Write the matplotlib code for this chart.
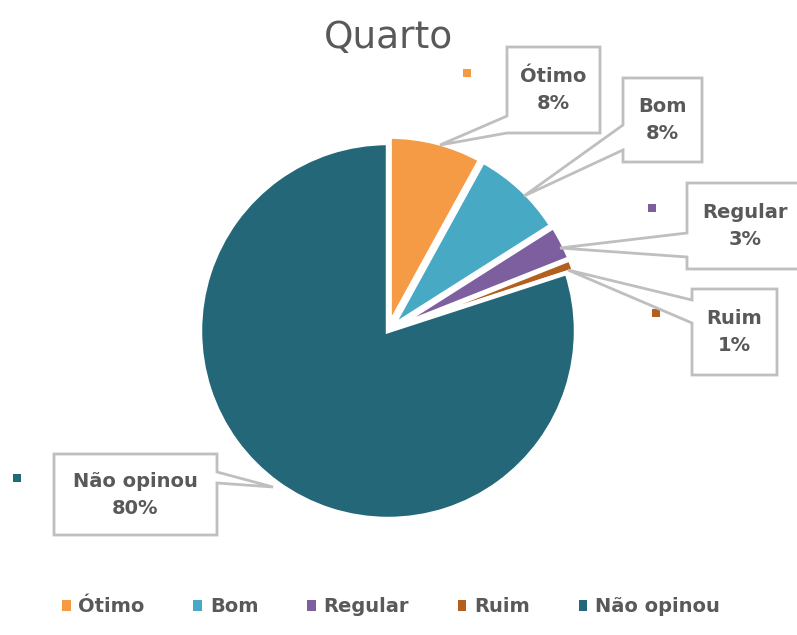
import matplotlib
matplotlib.use('Agg')
import matplotlib.pyplot as plt
from matplotlib.patches import Polygon, Patch

# dados
categorias = ['Ótimo', 'Bom', 'Regular', 'Ruim', 'Não opinou']
valores = [8, 8, 3, 1, 80]
rotulos = ['8%', '8%', '3%', '1%', '80%']
cores = ['#F59A45', '#48A9C5', '#7D5FA0', '#B35F1F', '#246779']

CINZA = '#595959'
BORDA = '#BFBFBF'

# geometria em pixels (figura 797x635), centro e raio da pizza
CX, CY, R = 388, 331, 188

def px(x, y):
    return ((x - CX) / R, (CY - y) / R)

# caixas dos rotulos: (esq, topo, dir, base), ponta, lado e base do ponteiro
caixas = [(507, 47, 600, 133), (623, 78, 702, 162), (687, 183, 810, 269),
          (692, 289, 777, 375), (54, 454, 217, 535)]
centros_txt = [(553, 90), (662, 120), (745, 226), (734, 332), (135, 495)]
pontas = [(440, 145), (524, 196), (560, 248), (568, 270), (273, 487)]
ponteiros = [('L', 116, 133), ('L', 125, 150), ('L', 233, 257),
             ('L', 300, 323), ('R', 472, 483)]
marcas = [(467, 73), (589, 101), (652, 208), (656, 313), (17, 478)]

fig = plt.figure(figsize=(7.97, 6.35), dpi=100)
ax = fig.add_axes([0, 0, 1, 1])

ax.pie(valores, colors=cores, startangle=90, counterclock=False,
       explode=[0.035, 0.035, 0.04, 0.04, 0.0], radius=1, center=(0, 0),
       wedgeprops=dict(edgecolor='white', linewidth=3.2))

ax.set_xlim((0 - CX) / R, (797 - CX) / R)
ax.set_ylim((CY - 635) / R, CY / R)
ax.set_aspect('auto')
ax.axis('off')

for i in range(len(categorias)):
    l, t, r, b = caixas[i]
    lado, y1, y2 = ponteiros[i]
    tip = pontas[i]
    if lado == 'L':
        pts = [(l, t), (r, t), (r, b), (l, b), (l, y2), tip, (l, y1)]
    else:
        pts = [(l, t), (r, t), (r, y1), tip, (r, y2), (r, b), (l, b)]
    poly = Polygon([px(*p) for p in pts], closed=True, facecolor='white',
                   edgecolor=BORDA, linewidth=2.0, zorder=5, joinstyle='miter')
    ax.add_patch(poly)
    tx, ty = px(*centros_txt[i])
    ax.text(tx, ty, categorias[i] + '\n' + rotulos[i], ha='center', va='center',
            fontsize=14, fontweight='bold', color=CINZA, linespacing=1.55,
            zorder=6)
    mx, my = px(*marcas[i])
    ax.scatter([mx], [my], marker='s', s=40, color=cores[i], zorder=4,
               linewidths=0)

fig.text(CX / 797, 1 - 38 / 635, 'Quarto', ha='center', va='center',
         fontsize=27, color=CINZA)

handles = [Patch(facecolor=c, edgecolor='none') for c in cores]
fig.legend(handles, categorias, loc='center', ncol=5, frameon=False,
           bbox_to_anchor=(391 / 797, 1 - 607 / 635),
           prop=dict(size=14, weight='bold'), labelcolor=CINZA,
           handlelength=0.45, handleheight=0.45, handletextpad=0.4,
           columnspacing=2.5)

fig.savefig('out.png', dpi=100, facecolor='white')
